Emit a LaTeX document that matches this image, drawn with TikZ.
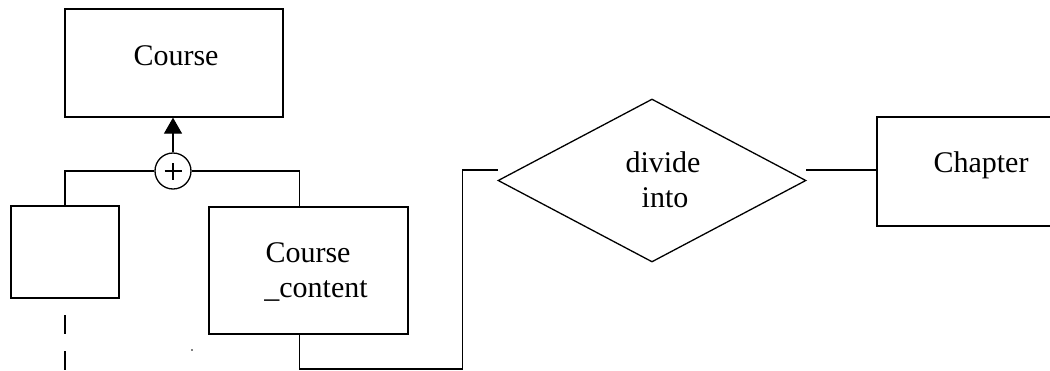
\documentclass[tikz,border=0pt]{standalone}
\usepackage{fontspec}
\setmainfont{Liberation Serif}
\usetikzlibrary{arrows.meta,shapes.geometric}

\tikzset{
  ln/.style={line width=1.3pt, black},
  entity/.style={draw, ln, rectangle, inner sep=0pt},
  txt/.style={font=\fontsize{30}{35}\selectfont, anchor=base, inner sep=0pt},
  relation/.style={draw, ln, diamond, inner sep=0pt, minimum width=308pt, minimum height=163pt},
  junction/.style={draw, ln, circle, minimum size=36pt, inner sep=0pt},
  dashline/.style={ln, dash pattern=on 19pt off 17pt}
}

\begin{document}
\begin{tikzpicture}[x=1pt, y=-1pt]
  \clip (0,0) rectangle (1050,370);
  \fill[white] (0,0) rectangle (1050,370);

  % entity boxes
  \node[entity, minimum width=218pt, minimum height=108pt] (course) at (174,63) {};
  \node[txt] (coursetxt) at (176,65) {Course};

  \node[entity, minimum width=108pt, minimum height=92pt] (sub) at (65,252) {};

  \node[entity, minimum width=199pt, minimum height=127pt] (content) at (308.5,270.5) {};
  \node[txt] (contenttxt1) at (308,262) {Course};
  \node[txt] (contenttxt2) at (316,297) {\_content};

  \node[entity, minimum width=223pt, minimum height=109pt] (chapter) at (988.5,171.5) {};
  \node[txt] (chaptertxt) at (981,172) {Chapter};

  % relationship
  \node[relation] (divide) at (652,180.5) {};
  \node[txt] (dividetxt1) at (663,172) {divide};
  \node[txt] (dividetxt2) at (665,207) {into};

  % generalisation junction
  \node[junction] (plus) at (173,171) {};
  \draw[ln] ([xshift=-8.5pt]plus.center) -- ([xshift=8.5pt]plus.center);
  \draw[ln] ([yshift=-8.5pt]plus.center) -- ([yshift=8.5pt]plus.center);

  \draw[ln, -{Triangle[width=18pt,length=16pt]}] (plus.north) -- (plus.north |- course.south);
  \coordinate (branch) at (299.5,0);
  \draw[ln] (plus.west) -| (sub.north);
  \draw[ln] (plus.east) -| (content.north -| branch);

  % dashed continuation below the small box
  \coordinate (dashend) at (65,372);
  \draw[dashline] (65,315) -- (dashend);
  \fill (192,350) circle (0.9pt);

  % connector from content to the relationship
  \coordinate (c1) at (299.5,369);
  \coordinate (c2) at (462.5,369);
  \coordinate (c3) at (462.5,170);
  \coordinate (c4) at (498,170);
  \draw[ln] (content.south -| c1) -- (c1) -- (c2) -- (c3) -- (c4);

  % connector from the relationship to Chapter
  \coordinate (d1) at (806,170);
  \draw[ln] (d1) -- (d1 -| chapter.west);
\end{tikzpicture}
\end{document}
